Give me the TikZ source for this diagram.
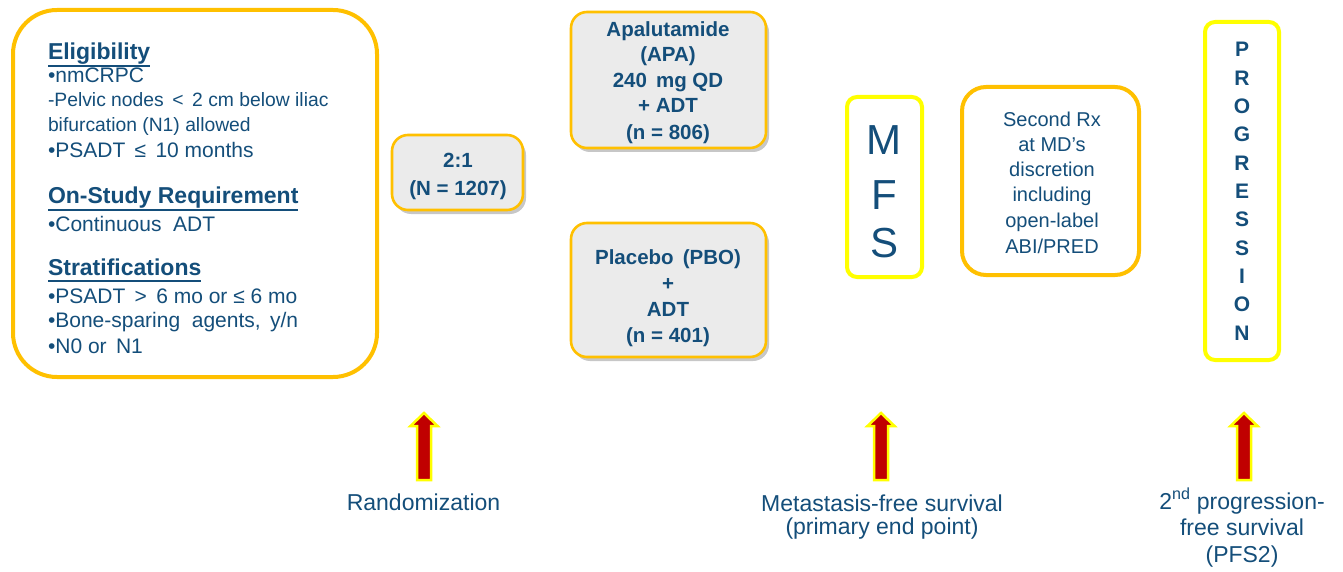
\documentclass[tikz,border=0pt]{standalone}
\usepackage{fontspec}
\setmainfont{Liberation Sans}
\usetikzlibrary{shadows}

\definecolor{txtblue}{RGB}{20,78,122}
\definecolor{gold}{RGB}{255,192,0}
\definecolor{brightyellow}{RGB}{255,255,0}
\definecolor{boxgray}{RGB}{235,235,235}
\definecolor{arrowred}{RGB}{192,0,0}

\newcommand\fsz[1]{\fontsize{#1}{#1}\selectfont}

\tikzset{
  every node/.style={text=txtblue, inner sep=0pt, outer sep=0pt},
  panel/.style={draw=gold, line width=4pt, rounded corners=44pt, fill=white},
  armbox/.style={draw=gold, line width=2.6pt, fill=boxgray, rounded corners=16pt,
    drop shadow={shadow xshift=3pt, shadow yshift=-4pt, opacity=0.22, fill=black}},
  milestone/.style={draw=brightyellow, line width=4pt, rounded corners=10pt, fill=white},
  rxbox/.style={draw=gold, line width=4pt, rounded corners=24pt, fill=white},
  heading/.style={anchor=base west, font=\fsz{23}\bfseries},
  bodyline/.style={anchor=base west, font=\fsz{21}},
  smallline/.style={anchor=base west, font=\fsz{19.3}},
  boldline/.style={anchor=base, font=\fsz{20.5}\bfseries},
  plainline/.style={anchor=base, font=\fsz{20}},
  caption/.style={anchor=base, font=\fsz{23}},
  blockarrow/.style={fill=arrowred, draw=brightyellow, line width=2.5pt, line join=miter}
}

% upward block arrow standing on a named coordinate
\newcommand\upblock[2]{%
  \coordinate (#1) at (#2,480);
  \filldraw[blockarrow] ({#2-7},480) -- ({#2-7},426) -- ({#2-13.5},426) -- (#2,413)
    -- ({#2+13.5},426) -- ({#2+7},426) -- ({#2+7},480) -- cycle;}

\begin{document}
\begin{tikzpicture}[x=1pt,y=-1pt]
\useasboundingbox[fill=white] (0,0) rectangle (1343,572);

% ---------- eligibility panel ----------
\node[panel, minimum width=364pt, minimum height=367pt] (elig) at (195,193.5) {};
\node[heading] (h1) at (48,60) {Eligibility};
\draw[txtblue, line width=2pt] ([yshift=-6pt]h1.base west) -- ([yshift=-6pt]h1.base east);
\node[bodyline]  (e1) at (48,83)  {•nmCRPC};
\node[smallline] (e2) at (48,107) {-Pelvic nodes \,<\, 2 cm below iliac};
\node[smallline] (e3) at (48,132) {bifurcation (N1) allowed};
\node[bodyline]  (e4) at (48,158) {•PSADT \,≤\, 10 months};
\node[heading] (h2) at (48,204) {On-Study Requirement};
\draw[txtblue, line width=2pt] ([yshift=-6pt]h2.base west) -- ([yshift=-6pt]h2.base east);
\node[bodyline]  (o1) at (48,231) {•Continuous \ ADT};
\node[heading] (h3) at (48,275) {Stratifications};
\draw[txtblue, line width=2pt] ([yshift=-6pt]h3.base west) -- ([yshift=-6pt]h3.base east);
\node[bodyline]  (s1) at (48,303) {•PSADT \,>\, 6 mo or ≤ 6 mo};
\node[bodyline]  (s2) at (48,327) {•Bone-sparing \ agents, \,y/n};
\node[bodyline]  (s3) at (48,353) {•N0 or \,N1};

% ---------- randomisation ratio ----------
\node[armbox, minimum width=131pt, minimum height=75pt] (ratio) at (457.5,172.5) {};
\node[boldline] (r1) at (458,168) {2:1};
\node[boldline] (r2) at (458,196) {(N = 1207)};

% ---------- treatment arms ----------
\node[armbox, minimum width=195pt, minimum height=136pt] (apa) at (668.5,80) {};
\node[boldline] (a1) at (668,37)  {Apalutamide};
\node[boldline] (a2) at (668,62)  {(APA)};
\node[boldline] (a3) at (668,88)  {240 \,mg QD};
\node[boldline] (a4) at (668,113) {+ ADT};
\node[boldline] (a5) at (668,140) {(n = 806)};

\node[armbox, minimum width=195pt, minimum height=134pt] (pbo) at (668.5,290) {};
\node[boldline] (p1) at (668,264) {Placebo \,(PBO)};
\node[boldline] (p2) at (668,290) {+};
\node[boldline] (p3) at (668,316) {ADT};
\node[boldline] (p4) at (668,342) {(n = 401)};

% ---------- metastasis-free survival ----------
\node[milestone, minimum width=75pt, minimum height=180pt] (mfs) at (884.5,187) {};
\node[anchor=base, font=\fsz{42}] (m1) at (884,155) {M};
\node[anchor=base, font=\fsz{42}] (m2) at (884,209) {F};
\node[anchor=base, font=\fsz{42}] (m3) at (884,257) {S};

% ---------- second-line therapy ----------
\node[rxbox, minimum width=177pt, minimum height=188pt] (rx) at (1050.5,181) {};
\node[plainline] (x1) at (1052,127) {Second Rx};
\node[plainline] (x2) at (1052,152) {at MD’s};
\node[plainline] (x3) at (1052,177) {discretion};
\node[plainline] (x4) at (1052,201) {including};
\node[plainline] (x5) at (1052,227) {open-label};
\node[plainline] (x6) at (1052,253) {ABI/PRED};

% ---------- progression column ----------
\node[milestone, minimum width=74pt, minimum height=338pt] (prog) at (1242,191) {};
\foreach \ch [count=\i from 0] in {P,R,O,G,R,E,S,S,I,O,N}
  \node[anchor=base, font=\fsz{21}\bfseries] (g\i) at (1242,{57+28.3*\i}) {\ch};

% ---------- time-point markers ----------
\upblock{arrA}{424}
\upblock{arrB}{881}
\upblock{arrC}{1244}

\node[caption] (c1) at (423.5,510) {Randomization};
\node[caption] (c2) at (882,511) {Metastasis-free survival};
\node[caption] (c3) at (882,534) {(primary end point)};
\node[caption] (c4) at (1242,509) {2\textsuperscript{nd} progression-};
\node[caption] (c5) at (1242,535) {free survival};
\node[caption] (c6) at (1242,562) {(PFS2)};
\end{tikzpicture}
\end{document}
